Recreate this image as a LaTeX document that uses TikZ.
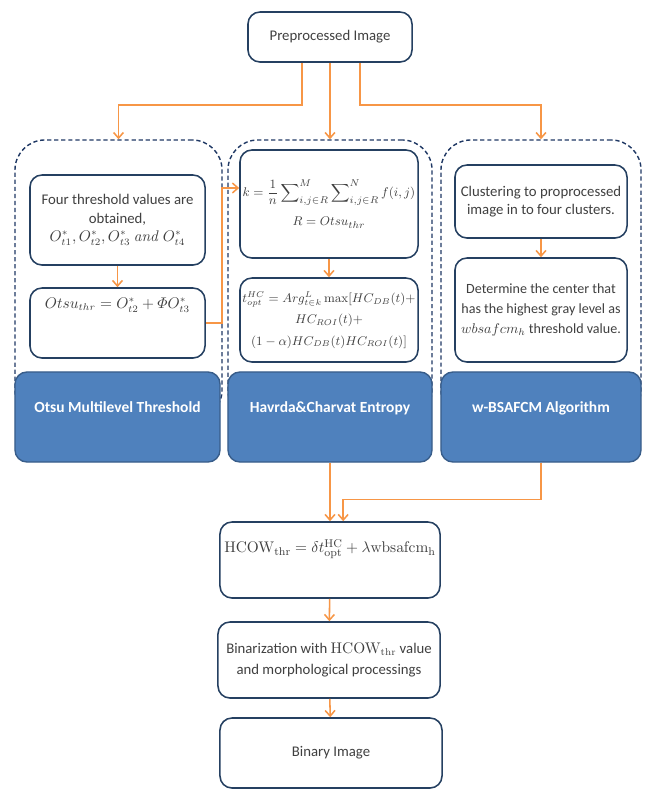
\documentclass[tikz,border=0pt]{standalone}
\usepackage{amsmath}
\usepackage[no-math]{fontspec}
\setmainfont{Carlito}
\usetikzlibrary{arrows.meta}
\definecolor{boxline}{RGB}{37,64,97}
\definecolor{wrapline}{RGB}{31,56,100}
\definecolor{bluefill}{RGB}{79,129,189}
\definecolor{blueline}{RGB}{56,93,138}
\definecolor{arrorange}{RGB}{247,150,70}
\definecolor{txtgray}{RGB}{64,64,64}

\begin{document}
\begin{tikzpicture}[x=0.025cm, y=-0.025cm,
	box/.style={draw=boxline, line width=1.1pt, rounded corners=0.3cm, fill=white, align=center, text=txtgray, font=\fontsize{10.5}{13}\selectfont, inner sep=2pt},
	wrap/.style={draw=wrapline, line width=1pt, dash pattern=on 3pt off 2pt, rounded corners=0.75cm},
	method/.style={draw=blueline, line width=1pt, fill=bluefill, rounded corners=0.3cm, text=white, font=\fontsize{11}{13}\selectfont\bfseries, text depth=0.5cm},
	arr/.style={draw=arrorange, line width=1.1pt, -{Straight Barb[length=4pt,width=7pt]}}]
			%%%%% START %%%%%
			
			\useasboundingbox[fill=white] (0, 0) rectangle (647, 791);
			
			\node[box, minimum width=4.1cm, minimum height=1.25cm] (pre) at (330, 37) {Preprocessed Image};
			
			% dashed groups
			\node[wrap, minimum width=5.175cm, minimum height=7cm] (lwrap) at (118.5, 280) {};
			\node[wrap, minimum width=5.1cm, minimum height=7cm] (mwrap) at (330, 280) {};
			\node[wrap, minimum width=5cm, minimum height=7cm] (rwrap) at (541, 280) {};
			
			\node[method, minimum width=5.125cm, minimum height=2.25cm] (otsu) at (117.5, 417) {Otsu Multilevel Threshold};
			\node[method, minimum width=5.1cm, minimum height=2.25cm] (hc) at (330, 417) {Havrda\&Charvat Entropy};
			\node[method, minimum width=5cm, minimum height=2.25cm] (wb) at (541, 417) {w-BSAFCM Algorithm};
			
			% left group
			\node[box, minimum width=4.375cm, minimum height=2.25cm] (lt1) at (117.5, 220) {Four threshold values are\\obtained,\\$O^{*}_{t1}, O^{*}_{t2}, O^{*}_{t3}\ \mathit{and}\ O^{*}_{t4}$};
			\node[box, minimum width=4.375cm, minimum height=1.75cm, text depth=1cm] (lt2) at (117.5, 323) {$Otsu_{thr} = O^{*}_{t2} + \varPhi O^{*}_{t3}$};
			
			% middle group
			\node[box, minimum width=4.45cm, minimum height=2.7cm, inner sep=1pt, font=\fontsize{9.5}{13}\selectfont] (mk) at (329, 204) {$\displaystyle k = \frac{1}{n}\sum\nolimits_{i,j\in R}^{M}\sum\nolimits_{i,j\in R}^{N} f(i,j)$\\[8pt]$R = Otsu_{thr}$};
			\node[box, minimum width=4.45cm, minimum height=2.1cm, inner sep=1pt, font=\fontsize{9}{15}\selectfont] (mt) at (329, 320) {$t^{HC}_{opt} = Arg^{L}_{t\in k}\max[HC_{DB}(t) +$\\$HC_{ROI}(t) +$\\$(1-\alpha)HC_{DB}(t)HC_{ROI}(t)]$};
			
			% right group
			\node[box, minimum width=4.3cm, minimum height=1.825cm] (rc1) at (541, 201.5) {Clustering to proprocessed\\image in to four clusters.};
			\node[box, minimum width=4.3cm, minimum height=2.6cm, font=\fontsize{10}{14}\selectfont] (rc2) at (541, 310) {Determine the center that\\has the highest gray level as\\$wbsafcm_{h}$ threshold value.};
			
			% bottom chain
			\node[box, minimum width=5.5cm, minimum height=1.9cm, text depth=0.7cm, font=\fontsize{11}{13}\selectfont] (hcow) at (330, 560) {$\mathrm{HCOW_{thr}} = \delta t^{\mathrm{HC}}_{\mathrm{opt}} + \lambda\mathrm{wbsafcm_{h}}$};
			\node[box, minimum width=5.55cm, minimum height=1.9cm, font=\fontsize{10.5}{15}\selectfont] (bin) at (329, 660) {Binarization with $\mathrm{HCOW_{thr}}$ value\\and morphological processings};
			\node[box, minimum width=5.55cm, minimum height=1.75cm] (out) at (331, 753) {Binary Image};
			
			% arrows
			\draw[arr] ([xshift=-0.7cm]pre.south) -- ++(0, 42) -| (lwrap.north);
			\draw[arr] (pre.south) -- (mwrap.north);
			\draw[arr] ([xshift=0.75cm]pre.south) -- ++(0, 42) -| (rwrap.north);
			
			\draw[arr] (lt1) -- (lt2);
			\draw[arr] (lt2.east) -- ++(16, 0) |- ([yshift=0.4cm]mk.west);
			\draw[arr] (mk) -- (mt);
			\draw[arr] (rc1) -- (rc2);
			
			\draw[arr] (hc.south) -- (hcow.north);
			\draw[arr] (wb.south) -- ++(0, 37) -| ([xshift=0.33cm]hcow.north);
			\draw[arr] (hcow) -- (bin);
			\draw[arr] (bin) -- (out);
			
			%%%%% END %%%%%
\end{tikzpicture}
\end{document}
